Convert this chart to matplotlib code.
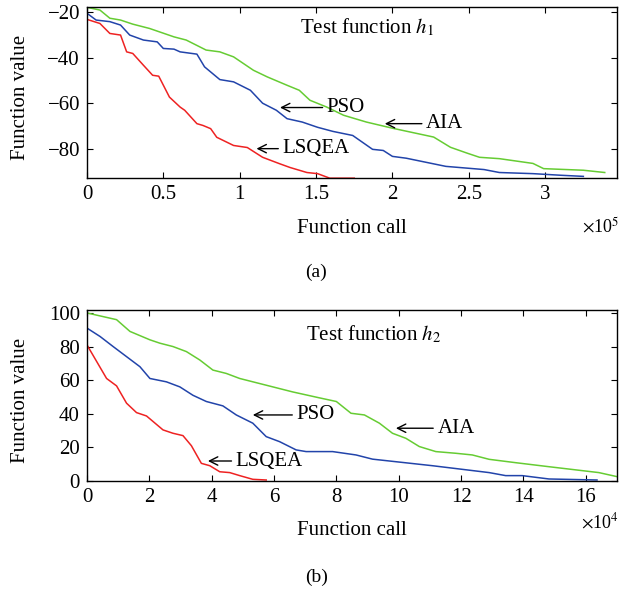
import matplotlib
matplotlib.use('Agg')
from matplotlib import pyplot as plt

plt.rcParams['font.family'] = ['Liberation Serif', 'DejaVu Serif']
plt.rcParams['mathtext.fontset'] = 'stix'
plt.rcParams['font.size'] = 15

# --- panel (a): test function h1, x in units of 1e5 function calls
aia1_x = [0, 0.085, 0.15, 0.22, 0.30, 0.41, 0.57, 0.65, 0.78, 0.87, 0.96, 1.09, 1.18,
          1.31, 1.39, 1.46, 1.57, 1.68, 1.83, 2.0, 2.27, 2.38, 2.49, 2.57, 2.70, 2.92,
          2.99, 3.25, 3.39]
aia1_y = [-17.8, -19, -22.6, -23.4, -25.2, -27.1, -30.8, -32.2, -36.6, -37.4, -39.6,
          -45.5, -48.4, -52.1, -54.3, -58.7, -61.7, -65.3, -68.3, -71, -74.9, -79.4,
          -82, -83.8, -84.4, -86.5, -88.8, -89.5, -90.5]

pso1_x = [0, 0.06, 0.15, 0.22, 0.28, 0.37, 0.46, 0.50, 0.57, 0.61, 0.72, 0.77, 0.87,
          0.96, 1.07, 1.15, 1.24, 1.31, 1.41, 1.51, 1.61, 1.74, 1.87, 1.94, 2.0, 2.09,
          2.22, 2.35, 2.6, 2.7, 2.92, 3.1, 3.25]
pso1_y = [-20.4, -23.4, -24.1, -25.6, -30, -32.2, -33, -35.9, -36.2, -37.4, -38.4, -44,
          -49.6, -50.6, -54.3, -60, -63.1, -66.8, -68.3, -70.6, -72.4, -74.2, -80.3,
          -80.8, -83.4, -84.2, -86, -87.8, -89.2, -90.5, -91, -91.7, -92.2]

lsq1_x = [0, 0.085, 0.15, 0.22, 0.26, 0.30, 0.37, 0.43, 0.47, 0.54, 0.61, 0.64, 0.72,
          0.76, 0.81, 0.85, 0.96, 1.05, 1.15, 1.26, 1.33, 1.44, 1.51, 1.59, 1.75]
lsq1_y = [-23.1, -24.9, -29.3, -30, -37.4, -38.1, -43.3, -47.7, -48.1, -57.3, -61.7,
          -63.1, -69, -69.8, -71.2, -75, -78.6, -79.5, -83.8, -86.6, -88.3, -90.5, -91,
          -93, -93]

# --- panel (b): test function h2, x in units of 1e4 function calls
aia2_x = [0, 0.95, 1.38, 2.02, 2.34, 2.76, 3.19, 3.62, 4.04, 4.47, 4.9, 5.75, 6.6, 7.45,
          8.0, 8.47, 8.9, 9.38, 9.8, 10.23, 10.66, 11.19, 11.83, 12.36, 12.9, 13.75,
          14.82, 16.42, 17.0]
aia2_y = [100, 96, 89, 84, 82, 80, 77, 72, 66, 64, 61, 57, 53, 49.5, 47.3, 40.3, 39.3,
          34.4, 28.4, 25.4, 20.5, 17.5, 16.5, 15.5, 12.9, 10.9, 8.5, 5, 2.6]

pso2_x = [0, 0.42, 0.84, 1.27, 1.7, 2.02, 2.55, 2.98, 3.4, 3.83, 4.36, 4.79, 5.32, 5.75,
          6.18, 6.71, 7.03, 7.88, 8.63, 9.16, 11.08, 12.9, 13.43, 13.96, 14.82, 16.36]
pso2_y = [91, 86, 80, 74, 68, 61, 59, 56, 51, 47.3, 44.7, 39.3, 34.4, 26.4, 23.4, 18.5,
          17.5, 17.5, 15.5, 13, 9.1, 5, 3.2, 3.2, 1.2, 0.6]

lsq2_x = [0, 0.63, 0.95, 1.27, 1.59, 1.91, 2.44, 2.76, 3.08, 3.35, 3.67, 3.94, 4.26,
          4.58, 4.9, 5.32, 5.75]
lsq2_y = [81, 61, 56.6, 46.3, 40.7, 38.7, 30.4, 28.4, 27, 21, 10.5, 9.1, 5.5, 5, 3.2,
          1, 0.6]

c_green = '#66cc33'
c_blue = '#2244aa'
c_red = '#ee2222'

fig = plt.figure(figsize=(6.21, 5.92), dpi=100)
ax1 = fig.add_axes([0.140, 0.699, 0.8535, 0.289])
ax2 = fig.add_axes([0.140, 0.1875, 0.8535, 0.289])

arrow = dict(arrowstyle='->', color='black', lw=1.0, shrinkA=1, shrinkB=0)


def style(ax, xlab_y):
    ax.tick_params(direction='in', top=True, right=True, length=4.5, width=0.8,
                   labelsize=15, pad=5)
    for s in ax.spines.values():
        s.set_linewidth(1.0)
    ax.set_xlabel('Function call', fontsize=15, va='center')
    ax.set_ylabel('Function value', fontsize=15, va='center')
    ax.xaxis.set_label_coords(0.5, xlab_y)
    ax.yaxis.set_label_coords(-0.125, 0.47)


# panel (a)
ax1.plot(aia1_x, aia1_y, color=c_green, lw=1.1)
ax1.plot(pso1_x, pso1_y, color=c_blue, lw=1.1)
ax1.plot(lsq1_x, lsq1_y, color=c_red, lw=1.1)
ax1.set_xlim(0, 3.47)
ax1.set_ylim(-93, -17.7)
ax1.set_xticks([0, 0.5, 1, 1.5, 2, 2.5, 3])
ax1.set_xticklabels(['0', '0.5', '1', '1.5', '2', '2.5', '3'])
ax1.set_yticks([-80, -60, -40, -20])
style(ax1, (178 - 228) / 171)
ax1.text(1.395, -26.5, r'Test function $h_1$', fontsize=15, va='center', ha='left')
ax1.annotate('PSO', xy=(1.264, -61.9), xytext=(1.57, -61.9), va='center', ha='left',
             fontsize=15, arrowprops=arrow)
ax1.annotate('AIA', xy=(1.95, -69), xytext=(2.22, -69), va='center', ha='left',
             fontsize=15, arrowprops=arrow)
ax1.annotate('LSQEA', xy=(1.11, -80), xytext=(1.28, -80), va='center', ha='left',
             fontsize=15, arrowprops=arrow)

# panel (b)
ax2.plot(aia2_x, aia2_y, color=c_green, lw=1.1)
ax2.plot(pso2_x, pso2_y, color=c_blue, lw=1.1)
ax2.plot(lsq2_x, lsq2_y, color=c_red, lw=1.1)
ax2.set_xlim(0, 17)
ax2.set_ylim(0, 101.8)
ax2.set_xticks(range(0, 17, 2))
ax2.set_yticks(range(0, 101, 20))
style(ax2, (481 - 530) / 171)
ax2.text(7.03, 87, r'Test function $h_2$', fontsize=15, va='center', ha='left')
ax2.annotate('PSO', xy=(5.32, 39.3), xytext=(6.72, 39.3), va='center', ha='left',
             fontsize=15, arrowprops=arrow)
ax2.annotate('AIA', xy=(9.91, 31.4), xytext=(11.24, 31.4), va='center', ha='left',
             fontsize=15, arrowprops=arrow)
ax2.annotate('LSQEA', xy=(3.88, 11.9), xytext=(4.77, 11.9), va='center', ha='left',
             fontsize=15, arrowprops=arrow)

# offsets and captions
fig.text(0.997, 1 - 226 / 592, r'$\times$10$^5$', fontsize=13, va='center', ha='right')
fig.text(0.997, 1 - 522 / 592, r'$\times$10$^4$', fontsize=13, va='center', ha='right')
fig.text(0.509, 1 - 272 / 592, '(a)', fontsize=14, va='center', ha='center')
fig.text(0.509, 1 - 577 / 592, '(b)', fontsize=14, va='center', ha='center')

plt.savefig('out.png', dpi=100)
